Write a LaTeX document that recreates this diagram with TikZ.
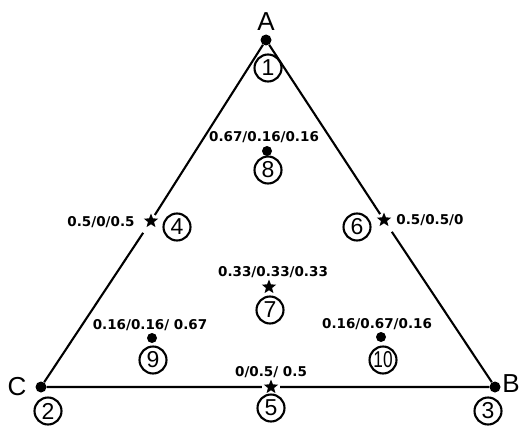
\documentclass[tikz,border=0pt]{standalone}
\usepackage{fontspec}
\setmainfont{Liberation Sans}
\newfontfamily\compfont{DejaVu Sans}
\usetikzlibrary{shapes.geometric}

\tikzset{
  vertexdot/.style={circle,fill=black,inner sep=0pt,minimum size=11pt},
  sampledot/.style={circle,fill=black,inner sep=0pt,minimum size=10pt},
  samplestar/.style={star,star points=5,star point ratio=2.3,fill=black,
    inner sep=0pt,minimum size=15pt,outer sep=3pt},
  numcirc/.style={circle,draw,line width=2.1pt,fill=white,inner sep=0pt,
    minimum size=27pt,font=\fontsize{23}{23}\selectfont},
  comp/.style={font=\compfont\bfseries\fontsize{13.5}{14}\selectfont,inner sep=0pt},
  corner/.style={font=\fontsize{26}{26}\selectfont,inner sep=0pt},
  side/.style={line width=2.1pt}
}

\begin{document}
\begin{tikzpicture}[x=1pt,y=-1pt]
\useasboundingbox (0,0) rectangle (521,425);
% corners of the composition triangle
\node[vertexdot] (A) at (266,40) {};
\node[vertexdot] (B) at (495,387) {};
\node[vertexdot] (C) at (41,387) {};
\node[corner] (labA) at (266,22) {A};
\node[corner] (labB) at (511,384) {B};
\node[corner] (labC) at (17,387) {C};
% binary mixtures on the sides (stars)
\node[samplestar] (s4) at (151,221) {};
\node[samplestar] (s5) at (271,387) {};
\node[samplestar] (s6) at (384,220) {};
\draw[side] (A) -- (s4) -- (C) -- (s5) -- (B) -- (s6) -- (A);
% interior mixtures
\node[samplestar] (s7) at (269,287) {};
\node[sampledot] (s8) at (267,151) {};
\node[sampledot] (s9) at (152,338) {};
\node[sampledot] (s10) at (381,337) {};
% compositions A/B/C
\node[comp] (c4) at (101,222) {0.5/0/0.5};
\node[comp] (c5) at (271,372) {0/0.5/ 0.5};
\node[comp] (c6) at (430,220) {0.5/0.5/0};
\node[comp] (c7) at (273,272) {0.33/0.33/0.33};
\node[comp] (c8) at (264,137) {0.67/0.16/0.16};
\node[comp] (c9) at (150,325) {0.16/0.16/ 0.67};
\node[comp] (c10) at (377,324) {0.16/0.67/0.16};
% sample numbers
\foreach \n/\x/\y in {1/268/68, 2/48/411, 3/488/411, 4/177/227, 5/271/408,
  6/357/227, 7/270/310, 8/268/170, 9/153/360}
  \node[numcirc] (n\n) at (\x,\y) {\n};
\node[numcirc] (n10) at (383,360) {\scalebox{0.75}[1]{10}};
\end{tikzpicture}
\end{document}
